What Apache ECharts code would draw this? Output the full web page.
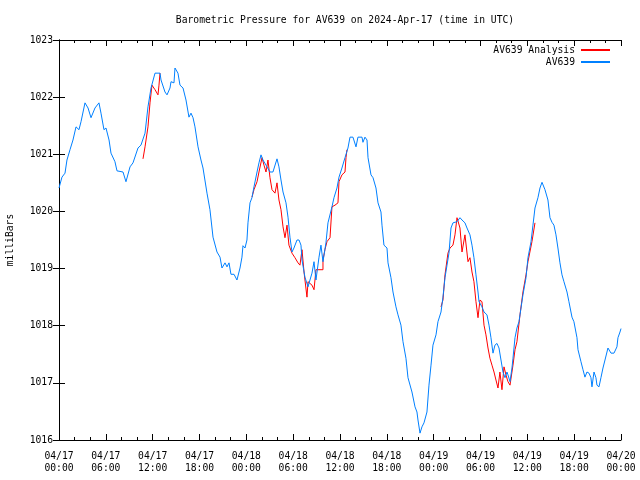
<!DOCTYPE html>
<html>
<head>
<meta charset="utf-8">
<script src="https://cdn.jsdelivr.net/npm/echarts@6/dist/echarts.min.js"></script>
<style>html,body{margin:0;padding:0;background:#fff}#c{width:640px;height:480px}</style>
</head>
<body>
<div id="c"></div>
<script>
const titleText = 'Barometric Pressure for AV639 on 2024-Apr-17 (time in UTC)';
const dateLabels = ['04/17','04/17','04/17','04/17','04/18','04/18','04/18','04/18','04/19','04/19','04/19','04/19','04/20'];
const timeLabels = ['00:00','06:00','12:00','18:00','00:00','06:00','12:00','18:00','00:00','06:00','12:00','18:00','00:00'];
const yTicks = [1016,1017,1018,1019,1020,1021,1022,1023];

// AV639 observations: hours since 04/17 00:00 UTC, pressure in mbar
const blueHours = [0.00,0.38,0.77,1.02,1.41,1.79,2.18,2.56,2.82,3.33,3.72,4.10,4.61,5.12,5.38,5.76,6.02,6.41,6.66,7.17,7.43,8.20,8.58,9.10,9.48,10.12,10.50,11.02,11.40,11.79,12.30,12.94,13.07,13.32,13.58,13.84,14.22,14.35,14.73,14.86,15.24,15.50,15.89,16.27,16.65,16.91,17.17,17.42,17.81,18.19,18.45,18.96,19.34,19.73,20.24,20.63,20.88,21.27,21.52,21.78,22.03,22.42,22.80,23.19,23.44,23.57,23.83,24.08,24.21,24.47,24.72,24.98,25.37,25.62,25.88,26.13,26.52,27.03,27.41,27.93,28.18,28.44,28.70,29.08,29.34,29.59,29.85,30.10,30.49,30.75,31.00,31.13,31.51,31.90,32.15,32.41,32.67,32.92,33.31,33.56,33.82,34.20,34.46,34.97,35.23,35.61,35.87,36.25,36.64,37.02,37.28,37.66,38.05,38.30,38.82,38.94,39.20,39.46,39.59,39.97,40.23,40.61,40.87,41.25,41.38,41.63,42.02,42.15,42.53,42.79,43.17,43.43,43.81,44.07,44.45,44.71,45.22,45.61,45.86,45.99,46.25,46.50,46.76,47.14,47.40,47.66,47.91,48.30,48.55,48.94,49.19,49.45,49.71,49.96,50.22,50.47,50.99,51.37,51.63,52.01,52.27,52.65,52.91,53.16,53.42,53.68,53.81,54.19,54.45,54.83,55.09,55.34,55.60,55.85,56.11,56.37,56.62,56.88,57.14,57.39,57.52,57.78,58.03,58.16,58.42,58.67,58.93,59.19,59.44,59.83,60.08,60.47,60.72,60.98,61.36,61.62,61.88,62.00,62.26,62.64,62.90,63.16,63.41,63.67,63.92,64.18,64.44,64.69,65.08,65.33,65.72,65.97,66.36,66.49,66.87,67.13,67.38,67.64,67.90,68.15,68.28,68.54,68.79,68.92,69.18,69.43,69.69,69.95,70.33,70.72,71.10,71.48,71.61,71.87,72.00];
const bluePressure = [1020.41,1020.60,1020.67,1020.90,1021.08,1021.25,1021.48,1021.43,1021.57,1021.90,1021.81,1021.64,1021.81,1021.90,1021.72,1021.43,1021.46,1021.25,1021.02,1020.87,1020.71,1020.69,1020.52,1020.78,1020.85,1021.11,1021.16,1021.37,1021.83,1022.16,1022.42,1022.42,1022.30,1022.30,1022.09,1022.04,1022.16,1022.27,1022.25,1022.51,1022.42,1022.21,1022.16,1021.95,1021.65,1021.72,1021.64,1021.48,1021.13,1020.90,1020.76,1020.32,1020.03,1019.55,1019.29,1019.20,1019.01,1019.10,1019.03,1019.10,1018.90,1018.90,1018.80,1019.01,1019.20,1019.40,1019.36,1019.50,1019.80,1020.15,1020.24,1020.43,1020.69,1020.85,1020.99,1020.90,1020.81,1020.69,1020.69,1020.92,1020.78,1020.55,1020.34,1020.15,1019.90,1019.55,1019.29,1019.36,1019.50,1019.50,1019.41,1019.15,1018.85,1018.68,1018.71,1018.92,1019.12,1018.80,1019.20,1019.41,1019.12,1019.45,1019.80,1020.08,1020.24,1020.41,1020.60,1020.76,1020.94,1021.11,1021.30,1021.30,1021.13,1021.30,1021.30,1021.21,1021.30,1021.25,1020.94,1020.64,1020.59,1020.41,1020.15,1019.99,1019.76,1019.41,1019.36,1019.10,1018.84,1018.59,1018.33,1018.19,1018.01,1017.72,1017.43,1017.09,1016.84,1016.58,1016.49,1016.35,1016.12,1016.23,1016.30,1016.49,1016.96,1017.31,1017.66,1017.84,1018.07,1018.24,1018.50,1018.84,1019.06,1019.27,1019.71,1019.80,1019.82,1019.89,1019.85,1019.80,1019.71,1019.59,1019.41,1019.19,1018.89,1018.59,1018.42,1018.33,1018.24,1018.19,1018.01,1017.79,1017.52,1017.66,1017.69,1017.61,1017.61,1017.19,1017.09,1017.19,1017.14,1017.02,1017.26,1017.43,1017.79,1017.96,1018.07,1018.31,1018.54,1018.84,1019.19,1019.47,1019.76,1020.06,1020.24,1020.41,1020.51,1020.51,1020.38,1020.20,1019.89,1019.81,1019.76,1019.59,1019.36,1019.10,1018.89,1018.77,1018.59,1018.42,1018.15,1018.07,1017.79,1017.58,1017.37,1017.23,1017.10,1017.19,1017.17,1017.09,1016.93,1017.19,1017.09,1016.96,1016.93,1017.09,1017.26,1017.40,1017.61,1017.52,1017.52,1017.63,1017.79,1017.89,1017.95];

// AV639 Analysis: three separate segments
const anaHours1 = [10.76,11.02,11.40,11.66,11.91,12.30,12.68,12.81,12.94];
const anaPressure1 = [1020.92,1021.13,1021.48,1021.90,1022.21,1022.13,1022.04,1022.21,1022.42];
const anaHours2 = [24.72,24.98,25.37,25.62,26.01,26.26,26.52,26.77,27.03,27.29,27.67,27.93,28.18,28.44,28.70,28.95,29.21,29.46,29.85,30.23,30.62,30.87,31.13,31.39,31.77,31.90,32.15,32.41,32.67,32.92,33.18,33.82,33.82,34.07,34.33,34.72,34.97,35.36,35.74,35.87,36.25,36.64,36.77,36.89];
const anaPressure2 = [1020.25,1020.38,1020.52,1020.69,1020.94,1020.81,1020.69,1020.90,1020.59,1020.38,1020.32,1020.50,1020.20,1020.03,1019.73,1019.54,1019.76,1019.41,1019.27,1019.19,1019.10,1019.06,1019.33,1018.94,1018.50,1018.77,1018.80,1018.71,1018.63,1018.98,1018.98,1018.98,1019.15,1019.33,1019.47,1019.54,1020.08,1020.11,1020.15,1020.52,1020.64,1020.69,1020.94,1021.08];
const anaHours3 = [48.94,49.19,49.45,49.83,50.09,50.47,50.73,50.99,51.37,51.63,52.01,52.40,52.65,52.91,53.16,53.42,53.68,53.93,54.19,54.45,54.70,54.96,55.21,55.47,55.73,55.98,56.24,56.49,56.75,57.01,57.26,57.52,57.78,58.03,58.16,58.42,58.67,59.06,59.44,59.83,60.08,60.59,60.98];
const anaPressure3 = [1018.33,1018.45,1018.89,1019.27,1019.36,1019.41,1019.59,1019.89,1019.71,1019.29,1019.59,1019.12,1019.19,1018.94,1018.77,1018.42,1018.14,1018.45,1018.42,1018.01,1017.84,1017.61,1017.43,1017.31,1017.19,1017.05,1016.91,1017.19,1016.88,1017.28,1017.14,1017.02,1016.96,1017.19,1017.31,1017.58,1017.72,1018.19,1018.59,1018.89,1019.12,1019.47,1019.80];

function pairs(xs, ys) { return xs.map((x, i) => [x, ys[i]]); }
const anaData = pairs(anaHours1, anaPressure1)
  .concat([[anaHours1[anaHours1.length - 1], '-']])
  .concat(pairs(anaHours2, anaPressure2))
  .concat([[anaHours2[anaHours2.length - 1], '-']])
  .concat(pairs(anaHours3, anaPressure3));

const FONT = 'DejaVu Sans Mono';
const FS = 9.7;
const chart = echarts.init(document.getElementById('c'), null, {renderer: 'canvas'});

const xCommon = {
  type: 'value', min: 0, max: 72, interval: 6,
  axisLine: {show: true, lineStyle: {color: '#000', width: 1}},
  axisTick: {show: true, inside: true, length: 6, lineStyle: {color: '#000'}},
  minorTick: {show: true, splitNumber: 3, length: 3, lineStyle: {color: '#000'}},
  splitLine: {show: false}
};
const yCommon = {
  type: 'value', min: 1016, max: 1023, interval: 1,
  axisLine: {show: true, lineStyle: {color: '#000', width: 1}},
  axisTick: {show: true, inside: true, length: 6, lineStyle: {color: '#000'}},
  splitLine: {show: false}
};

chart.setOption({
  animation: false,
  backgroundColor: '#fff',
  title: {
    text: titleText, left: 340, top: 10, textAlign: 'center',
    textStyle: {fontFamily: FONT, fontSize: FS, fontWeight: 'normal', color: '#000'}
  },
  legend: {
    orient: 'vertical', right: 30, top: 45, align: 'right', padding: 0,
    itemWidth: 29, itemHeight: 2, itemGap: 2,
    textStyle: {fontFamily: FONT, fontSize: FS, color: '#000', padding: [0, 1, 0, 0]},
    data: [
      {name: 'AV639 Analysis', icon: 'rect'},
      {name: 'AV639', icon: 'rect'}
    ]
  },
  grid: {left: 59, right: 19, top: 40, bottom: 40, containLabel: false, outerBoundsMode: 'none'},
  xAxis: [
    Object.assign({}, xCommon, {
      position: 'bottom',
      axisLabel: {
        show: true, margin: 10, color: '#000', fontFamily: FONT, fontSize: FS, lineHeight: 12,
        formatter: v => { const i = Math.round(v / 6); return dateLabels[i] + '\n' + timeLabels[i]; }
      }
    }),
    Object.assign({}, xCommon, {position: 'top', axisLabel: {show: false}})
  ],
  yAxis: [
    Object.assign({}, yCommon, {
      position: 'left',
      name: 'milliBars', nameLocation: 'middle', nameGap: 44, nameRotate: 90,
      nameTextStyle: {fontFamily: FONT, fontSize: FS, color: '#000'},
      axisLabel: {
        show: true, margin: 6, color: '#000', fontFamily: FONT, fontSize: FS,
        formatter: v => String(yTicks[yTicks.indexOf(v)])
      }
    }),
    Object.assign({}, yCommon, {position: 'right', axisLabel: {show: false}})
  ],
  series: [
    {
      name: 'AV639', type: 'line', xAxisIndex: 0, yAxisIndex: 0,
      data: pairs(blueHours, bluePressure), showSymbol: false, symbol: 'none',
      lineStyle: {color: '#0080ff', width: 1}, itemStyle: {color: '#0080ff'}, z: 2
    },
    {
      name: 'AV639 Analysis', type: 'line', xAxisIndex: 0, yAxisIndex: 0,
      data: anaData, showSymbol: false, symbol: 'none', connectNulls: false,
      lineStyle: {color: '#ff0000', width: 1}, itemStyle: {color: '#ff0000'}, z: 1
    }
  ]
});
</script>
</body>
</html>
